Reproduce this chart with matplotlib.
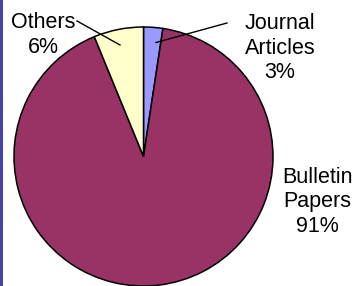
import matplotlib.pyplot as plt
from matplotlib.patches import Rectangle

# Data (clockwise from 12 o'clock)
categories = ["Journal\nArticles", "Bulletin\nPapers", "Others"]
shares = [2.4, 91.4, 6.2]
pct_labels = ["3%", "91%", "6%"]
colors = ["#9999FF", "#993366", "#FFFFCC"]

W, H = 360, 286
plt.rcParams['font.family'] = ['Liberation Sans', 'DejaVu Sans']

fig = plt.figure(figsize=(W / 100, H / 100), dpi=100)
ax = fig.add_axes([0, 0, 1, 1])

ax.pie(shares, colors=colors, startangle=90, counterclock=False,
       center=(143.5, H - 156.5), radius=129.5,
       wedgeprops=dict(edgecolor="black", linewidth=1.1))
ax.set_xlim(0, W)
ax.set_ylim(0, H)
ax.set_aspect('equal')
ax.axis('off')

# labels placed around the pie like the original
label_pos = [(280, H - 48), (317, H - 202), (43, H - 35)]
for cat, pct, (x, y) in zip(categories, pct_labels, label_pos):
    ax.text(x, y, cat + "\n" + pct, ha="center", va="center",
            fontsize=15.5, linespacing=1.2, color="black")

# leader lines
ax.plot([156, 227], [H - 42.5, H - 23], color="black", lw=1.0)
ax.plot([77, 120], [H - 21, H - 45], color="black", lw=1.0)

# blue left border of the chart area
fig.add_artist(Rectangle((0, 0), 2.5 / W, 1, transform=fig.transFigure,
                         color="#4444AA", lw=0))

fig.savefig("out.png", dpi=100)
